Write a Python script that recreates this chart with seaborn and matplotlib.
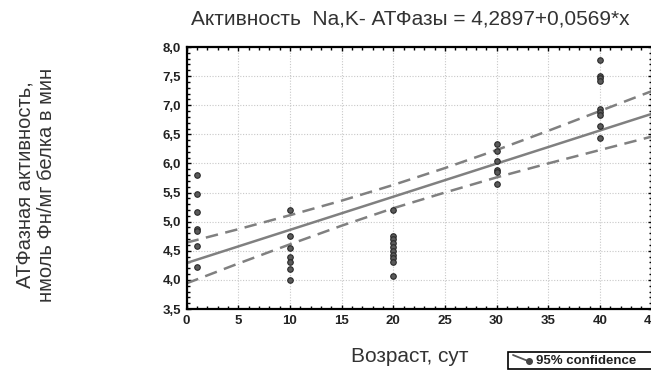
import numpy as np
import pandas as pd
import seaborn as sns
import matplotlib
matplotlib.use("Agg")
import matplotlib.pyplot as plt
from matplotlib.ticker import MultipleLocator, FuncFormatter
from matplotlib.lines import Line2D
from matplotlib.patches import Rectangle

sns.set_style("white")
plt.rcParams['font.family'] = ['Liberation Sans', 'DejaVu Sans']

# Data
age = [1]*7 + [10]*7 + [20]*10 + [30]*6 + [40]*9
activity = [5.80, 5.48, 5.16, 4.88, 4.84, 4.59, 4.22,
            5.20, 4.76, 4.55, 4.39, 4.31, 4.19, 3.99,
            5.20, 4.76, 4.70, 4.63, 4.56, 4.49, 4.43, 4.37, 4.31, 4.07,
            6.33, 6.21, 6.05, 5.89, 5.85, 5.64,
            7.77, 7.51, 7.46, 7.41, 6.93, 6.88, 6.84, 6.64, 6.44]
intercept = 4.2897
slope = 0.0569
# 95% confidence band
ci_x = [0, 5, 10, 15, 20, 25, 30, 35, 40, 45]
ci_hi = [4.64, 4.87, 5.11, 5.36, 5.63, 5.92, 6.23, 6.56, 6.90, 7.24]
ci_lo = [3.94, 4.28, 4.61, 4.93, 5.23, 5.50, 5.76, 6.00, 6.23, 6.46]
title = "Активность  Na,K- АТФазы = 4,2897+0,0569*x"
xlabel = "Возраст, сут"
ylabel = "АТФазная активность,\nнмоль Фн/мг белка в мин"
legend_label = "95% confidence"

df = pd.DataFrame({"x": age, "y": activity})
xg = np.array([0, 45], float)
fit = pd.DataFrame({"x": xg, "fit": intercept + slope * xg})
band = pd.DataFrame({"x": ci_x, "hi": ci_hi, "lo": ci_lo})

W, H = 651, 371
fig = plt.figure(figsize=(W/100, H/100), dpi=100)
ax = fig.add_axes([186.5/W, 1 - 309/H, (651.5-186.5)/W, (309-47)/H])

sns.lineplot(data=fit, x="x", y="fit", ax=ax, color="#808080", lw=1.8)
sns.lineplot(data=band, x="x", y="hi", ax=ax, color="#808080", lw=1.8, linestyle=(0, (5, 3)))
sns.lineplot(data=band, x="x", y="lo", ax=ax, color="#808080", lw=1.8, linestyle=(0, (5, 3)))
sns.scatterplot(data=df, x="x", y="y", ax=ax, color="#5a5a5a", edgecolor="#2a2a2a",
                s=16, linewidth=0.8, zorder=5)

ax.set_xlim(0, 45)
ax.set_ylim(3.5, 8.0)
ax.xaxis.set_major_locator(MultipleLocator(5))
ax.xaxis.set_minor_locator(MultipleLocator(1))
ax.yaxis.set_major_locator(MultipleLocator(0.5))
ax.yaxis.set_minor_locator(MultipleLocator(0.1))
ax.yaxis.set_major_formatter(FuncFormatter(lambda v, p: f"{v:.1f}".replace(".", ",")))
ax.tick_params(which="both", direction="in", top=True, right=True, bottom=True, left=True,
               width=1.0, color="black")
ax.tick_params(which="major", length=3, labelsize=9.5, pad=4)
ax.tick_params(which="minor", length=2)
for lab in ax.get_xticklabels() + ax.get_yticklabels():
    lab.set_fontweight("bold")
    lab.set_color("#222222")
ax.grid(True, which="major", linestyle=(0, (1, 1.5)), color="#c8c8c8", lw=0.8)
for sp in ax.spines.values():
    sp.set_color("black")
    sp.set_linewidth(1.6)
    sp.set_visible(True)

ax.set_xlabel("")
ax.set_ylabel("")
fig.text(410/W, 1 - 356/H, xlabel, ha="center", va="center", fontsize=15, color="#333333")
fig.text(410/W, 1 - 19/H, title, ha="center", va="center", fontsize=15, color="#333333")
fig.text(36/W, 1 - 185/H, ylabel, ha="center", va="center", rotation=90,
         fontsize=14.5, color="#333333", multialignment="center", linespacing=1.2)

# legend box (extends past the right edge as in the reference)
fig.add_artist(Rectangle((508/W, 1 - 369/H), 160/W, 17/H, transform=fig.transFigure,
                         facecolor="white", edgecolor="black", lw=1.2))
fig.add_artist(Line2D([513/W, 528/W], [1 - 355/H, 1 - 361/H], transform=fig.transFigure,
                      color="#555555", lw=1.3))
fig.add_artist(Line2D([529/W], [1 - 361/H], transform=fig.transFigure, marker="o",
                      markersize=4, color="#444444", lw=0))
fig.text(536/W, 1 - 360.5/H, legend_label, ha="left", va="center", fontsize=9.5,
         fontweight="bold", color="#222222")

fig.savefig("out.png", dpi=100)
